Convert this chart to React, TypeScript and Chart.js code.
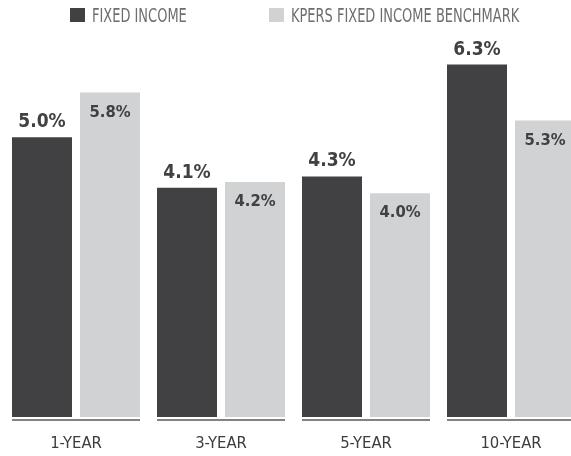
import React, { useEffect, useRef } from "react";
import { Chart, registerables } from "chart.js";

Chart.register(...registerables);

const categories = ["1-YEAR", "3-YEAR", "5-YEAR", "10-YEAR"];
const fixedIncome = [5.0, 4.1, 4.3, 6.3];
const benchmark = [5.8, 4.2, 4.0, 5.3];
const seriesNames = ["FIXED INCOME", "KPERS FIXED INCOME BENCHMARK"];

const DARK = "#414042";
const LIGHT = "#d1d2d4";
const AXIS = "#808285";
const LEGEND_TEXT = "#6d6e71";
const CAT_PCT = 136 / 145;
const BAR_PCT = 60 / 68;
const LINE_PCT = 128 / 145;
const NARROW = '"Liberation Sans Narrow", "DejaVu Sans Condensed", sans-serif';
const BOLDC = '"DejaVu Sans Condensed", "Liberation Sans Narrow", sans-serif';

const legendPlugin = {
  id: "customLegend",
  afterDraw(chart: any) {
    const ctx = chart.ctx;
    const items = [
      { x: 70, color: DARK, text: seriesNames[0] },
      { x: 269, color: LIGHT, text: seriesNames[1] },
    ];
    ctx.save();
    items.forEach((it) => {
      ctx.fillStyle = it.color;
      ctx.fillRect(it.x, 8, 15, 14);
      ctx.save();
      ctx.translate(it.x + 22, 22);
      ctx.scale(0.76, 1);
      ctx.font = `19px ${NARROW}`;
      ctx.fillStyle = LEGEND_TEXT;
      ctx.textAlign = "left";
      ctx.textBaseline = "alphabetic";
      ctx.fillText(it.text, 0, 0);
      ctx.restore();
    });
    ctx.restore();
  },
};

const axisLinePlugin = {
  id: "segmentAxis",
  afterDatasetsDraw(chart: any) {
    const ctx = chart.ctx;
    const xs = chart.scales.x;
    const n = chart.data.labels.length;
    const half = ((xs.right - xs.left) / n) * LINE_PCT / 2;
    const y = chart.chartArea.bottom + 3;
    ctx.save();
    ctx.strokeStyle = AXIS;
    ctx.lineWidth = 2;
    for (let i = 0; i < n; i++) {
      const cx = xs.getPixelForValue(i);
      ctx.beginPath();
      ctx.moveTo(cx - half, y);
      ctx.lineTo(cx + half, y);
      ctx.stroke();
    }
    ctx.restore();
  },
};

const valueLabelPlugin = {
  id: "valueLabels",
  afterDatasetsDraw(chart: any) {
    const ctx = chart.ctx;
    ctx.save();
    ctx.textAlign = "center";
    ctx.textBaseline = "alphabetic";
    ctx.fillStyle = DARK;
    chart.data.datasets.forEach((ds: any, di: number) => {
      const meta = chart.getDatasetMeta(di);
      meta.data.forEach((el: any, i: number) => {
        const text = Number(ds.data[i]).toFixed(1) + "%";
        if (di === 0) {
          ctx.font = `bold 19px ${BOLDC}`;
          ctx.fillText(text, el.x, el.y - 10);
        } else {
          ctx.font = `bold 16.5px ${BOLDC}`;
          ctx.fillText(text, el.x, el.y + 24);
        }
      });
    });
    ctx.restore();
  },
};

export default function App() {
  const ref = useRef<HTMLCanvasElement | null>(null);

  useEffect(() => {
    if (!ref.current) return;
    const chart = new Chart(ref.current, {
      type: "bar",
      data: {
        labels: categories,
        datasets: [
          {
            label: seriesNames[0],
            data: fixedIncome,
            backgroundColor: DARK,
            categoryPercentage: CAT_PCT,
            barPercentage: BAR_PCT,
          },
          {
            label: seriesNames[1],
            data: benchmark,
            backgroundColor: LIGHT,
            categoryPercentage: CAT_PCT,
            barPercentage: BAR_PCT,
          },
        ],
      },
      options: {
        responsive: false,
        animation: false,
        layout: { padding: { left: 3.5, right: 0.5, top: 31, bottom: 0 } },
        plugins: {
          legend: { display: false },
          tooltip: { enabled: false },
        },
        scales: {
          x: {
            grid: { display: false, drawTicks: false },
            border: { display: false },
            ticks: {
              color: "#3d3d3f",
              font: { family: NARROW, size: 16.5 },
              padding: 17,
            },
            afterFit: (scale: any) => {
              scale.height = 39;
            },
          },
          y: {
            display: false,
            min: 0,
            max: 6.9,
          },
        },
      },
      plugins: [axisLinePlugin, valueLabelPlugin, legendPlugin],
    });
    return () => chart.destroy();
  }, []);

  return (
    <div
      style={{
        position: "fixed",
        left: 0,
        top: 0,
        width: 571,
        height: 456,
        overflow: "hidden",
        background: "#ffffff",
      }}
    >
      <canvas ref={ref} width={584} height={456} style={{ display: "block" }} />
    </div>
  );
}
